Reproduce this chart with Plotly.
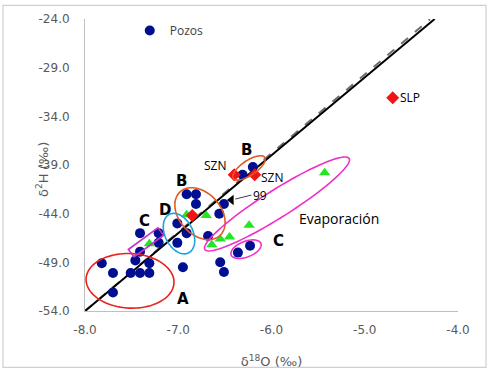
import numpy as np
import plotly.graph_objects as go

# ---------------- data ----------------
pozos_x = [-7.82, -7.70, -7.70, -7.51, -7.41, -7.31, -7.46, -7.31, -7.41, -7.41,
           -7.21, -7.21, -7.01, -6.91, -7.01, -6.95, -6.91, -6.81, -6.81, -6.51,
           -6.56, -6.68, -6.36, -6.23, -6.55, -6.51, -6.31, -6.20]
pozos_y = [-49.1, -50.1, -52.1, -50.1, -50.1, -50.1, -48.8, -49.1, -47.9, -46.0,
           -46.0, -47.0, -45.0, -46.0, -47.0, -49.5, -42.0, -42.0, -43.0, -43.0,
           -44.0, -46.3, -48.0, -47.3, -49.0, -50.0, -40.0, -39.2]

green_x = [-7.31, -6.91, -6.70, -6.64, -6.55, -6.45, -6.24, -5.43]
green_y = [-47.1, -44.1, -44.2, -47.2, -46.6, -46.4, -45.2, -39.8]

red_x = [-6.85, -6.40, -6.18, -4.70]
red_y = [-44.2, -40.0, -40.0, -32.1]

p99_x = [-6.43]
p99_y = [-42.6]

gmwl_x = [-8.0, -4.25]          # d2H = 8*d18O + 10
lmwl_x = [-8.0, -4.30]          # d2H = 8.1*d18O + 10.8
gmwl_slope, gmwl_int = 8.0, 10.0
lmwl_slope, lmwl_int = 8.1, 10.8

x_ticks = [-8.0, -7.0, -6.0, -5.0, -4.0]
y_ticks = [-54.0, -49.0, -44.0, -39.0, -34.0, -29.0, -24.0]

# group outlines: (kind, center x, center y, half-length px, half-width px, angle deg, color)
outlines = [
    ("ellipse", -7.517, -50.9, 44, 28, 3, "#E8231F"),
    ("ellipse", -6.767, -44.0, 30, 21, 50, "#E25A22"),
    ("ellipse", -6.992, -46.05, 22, 14, 65, "#1FA2DC"),
    ("ellipse", -6.241, -39.3, 19, 7.5, -35, "#E25A22"),
    ("ellipse", -5.941, -43.0, 86, 14, -33, "#EE30C8"),
    ("ellipse", -6.273, -47.65, 16, 8, -22, "#EE30C8"),
    ("rect", -7.346, -46.95, 18.5, 4.8, -37, "#C632C4"),
]

group_labels = [("A", -6.95, -52.8), ("B", -6.96, -40.6), ("D", -7.14, -43.6),
                ("C", -7.36, -44.8), ("B", -6.27, -37.5), ("C", -5.93, -46.8)]
text_labels = [("SZN", -6.61, -39.0, "center"), ("SZN", -6.00, -40.3, "center"),
               ("SLP", -4.64, -32.1, "left"), ("Evaporación", -5.28, -44.5, "center")]

# ---------------- layout geometry ----------------
W, H = 489, 379
L, R, T, B = 85, 31, 17, 62
PW, PH = W - L - R, H - T - B
sx = PW / 4.0     # px per unit x
sy = PH / 30.0    # px per unit y


def outline_path(kind, cx, cy, a, b, ang):
    th = np.deg2rad(ang)
    if kind == "ellipse":
        t = np.linspace(0, 2 * np.pi, 90)
        u, v = a * np.cos(t), b * np.sin(t)
    else:
        u = np.array([-a, a, a, -a])
        v = np.array([-b, -b, b, b])
    dx = u * np.cos(th) - v * np.sin(th)
    dy = u * np.sin(th) + v * np.cos(th)
    xs = cx + dx / sx
    ys = cy - dy / sy
    p = "M " + " L ".join(f"{x:.4f},{y:.4f}" for x, y in zip(xs, ys)) + " Z"
    return p


fig = go.Figure()

fig.add_trace(go.Scatter(x=lmwl_x, y=[lmwl_slope * v + lmwl_int for v in lmwl_x],
                         mode="lines", line=dict(color="#6E6E6E", width=2, dash="dash"),
                         showlegend=False))
fig.add_trace(go.Scatter(x=gmwl_x, y=[gmwl_slope * v + gmwl_int for v in gmwl_x],
                         mode="lines", line=dict(color="#000000", width=2),
                         showlegend=False))

fig.add_trace(go.Scatter(x=pozos_x, y=pozos_y, mode="markers", name="Pozos",
                         marker=dict(symbol="circle", size=10, color="#000F8F")))
fig.add_trace(go.Scatter(x=green_x, y=green_y, mode="markers", showlegend=False,
                         marker=dict(symbol="triangle-up", size=10, color="#22E622")))
fig.add_trace(go.Scatter(x=red_x, y=red_y, mode="markers", showlegend=False,
                         marker=dict(symbol="diamond", size=10, color="#F21414")))
fig.add_trace(go.Scatter(x=p99_x, y=p99_y, mode="markers", showlegend=False,
                         marker=dict(symbol="triangle-left", size=9, color="#000000")))

for kind, cx, cy, a, b, ang, col in outlines:
    fig.add_shape(type="path", path=outline_path(kind, cx, cy, a, b, ang),
                  xref="x", yref="y", line=dict(color=col, width=1.6))

# outer border of chart
fig.add_shape(type="rect", xref="paper", yref="paper",
              x0=(3 - L) / PW, x1=(486 - L) / PW,
              y0=1 - (375 - T) / PH, y1=1 - (3 - T) / PH,
              line=dict(color="#CFCFCF", width=1.2), layer="above")

for txt, x, y in group_labels:
    fig.add_annotation(x=x, y=y, text=f"<b>{txt}</b>", showarrow=False,
                       font=dict(family="DejaVu Sans", size=15, color="#000000"))
for txt, x, y, anc in text_labels:
    fig.add_annotation(x=x, y=y, text=txt, showarrow=False, xanchor=anc,
                       font=dict(family="Open Sans", size=14 if txt == "Evaporación" else 12,
                                 color="#000000"))

fig.add_annotation(x=p99_x[0], y=p99_y[0], ax=20, ay=-5, text="99", showarrow=True,
                   arrowhead=0, arrowwidth=1, arrowcolor="#404040", standoff=4,
                   xanchor="left", font=dict(family="Open Sans", size=12, color="#000000"))

# y-axis title
fig.add_annotation(xref="paper", yref="paper", x=(32 - L) / PW, y=1 - (171 - T) / PH,
                   text="δ<sup>2</sup>H (‰)", textangle=-90, showarrow=False,
                   font=dict(family="DejaVu Sans", size=13, color="#595959"))

fig.update_layout(
    width=W, height=H,
    margin=dict(l=L, r=R, t=T, b=B),
    paper_bgcolor="white", plot_bgcolor="white",
    showlegend=True,
    legend=dict(x=0.12, y=1.01, xanchor="left", yanchor="top",
                bgcolor="rgba(0,0,0,0)", borderwidth=0,
                font=dict(family="Open Sans", size=12, color="#404040")),
    xaxis=dict(range=[-8, -4], tickvals=x_ticks,
               ticktext=[f"{v:.1f}" for v in x_ticks],
               showgrid=False, zeroline=False, showline=True, linecolor="#BFBFBF",
               linewidth=1, ticks="", ticklabelstandoff=8,
               tickfont=dict(family="DejaVu Sans", size=12, color="#595959"),
               title=dict(text="δ<sup>18</sup>O (‰)", standoff=20,
                          font=dict(family="DejaVu Sans", size=13, color="#595959"))),
    yaxis=dict(range=[-54, -24], tickvals=y_ticks,
               ticktext=[f"{v:.1f}" for v in y_ticks],
               showgrid=False, zeroline=False, showline=True, linecolor="#BFBFBF",
               linewidth=1, ticks="", ticklabelstandoff=12,
               tickfont=dict(family="DejaVu Sans", size=12, color="#595959")),
)

fig.write_html("out.html", config={"displayModeBar": False},
               post_script="document.body.style.margin='0px';")
